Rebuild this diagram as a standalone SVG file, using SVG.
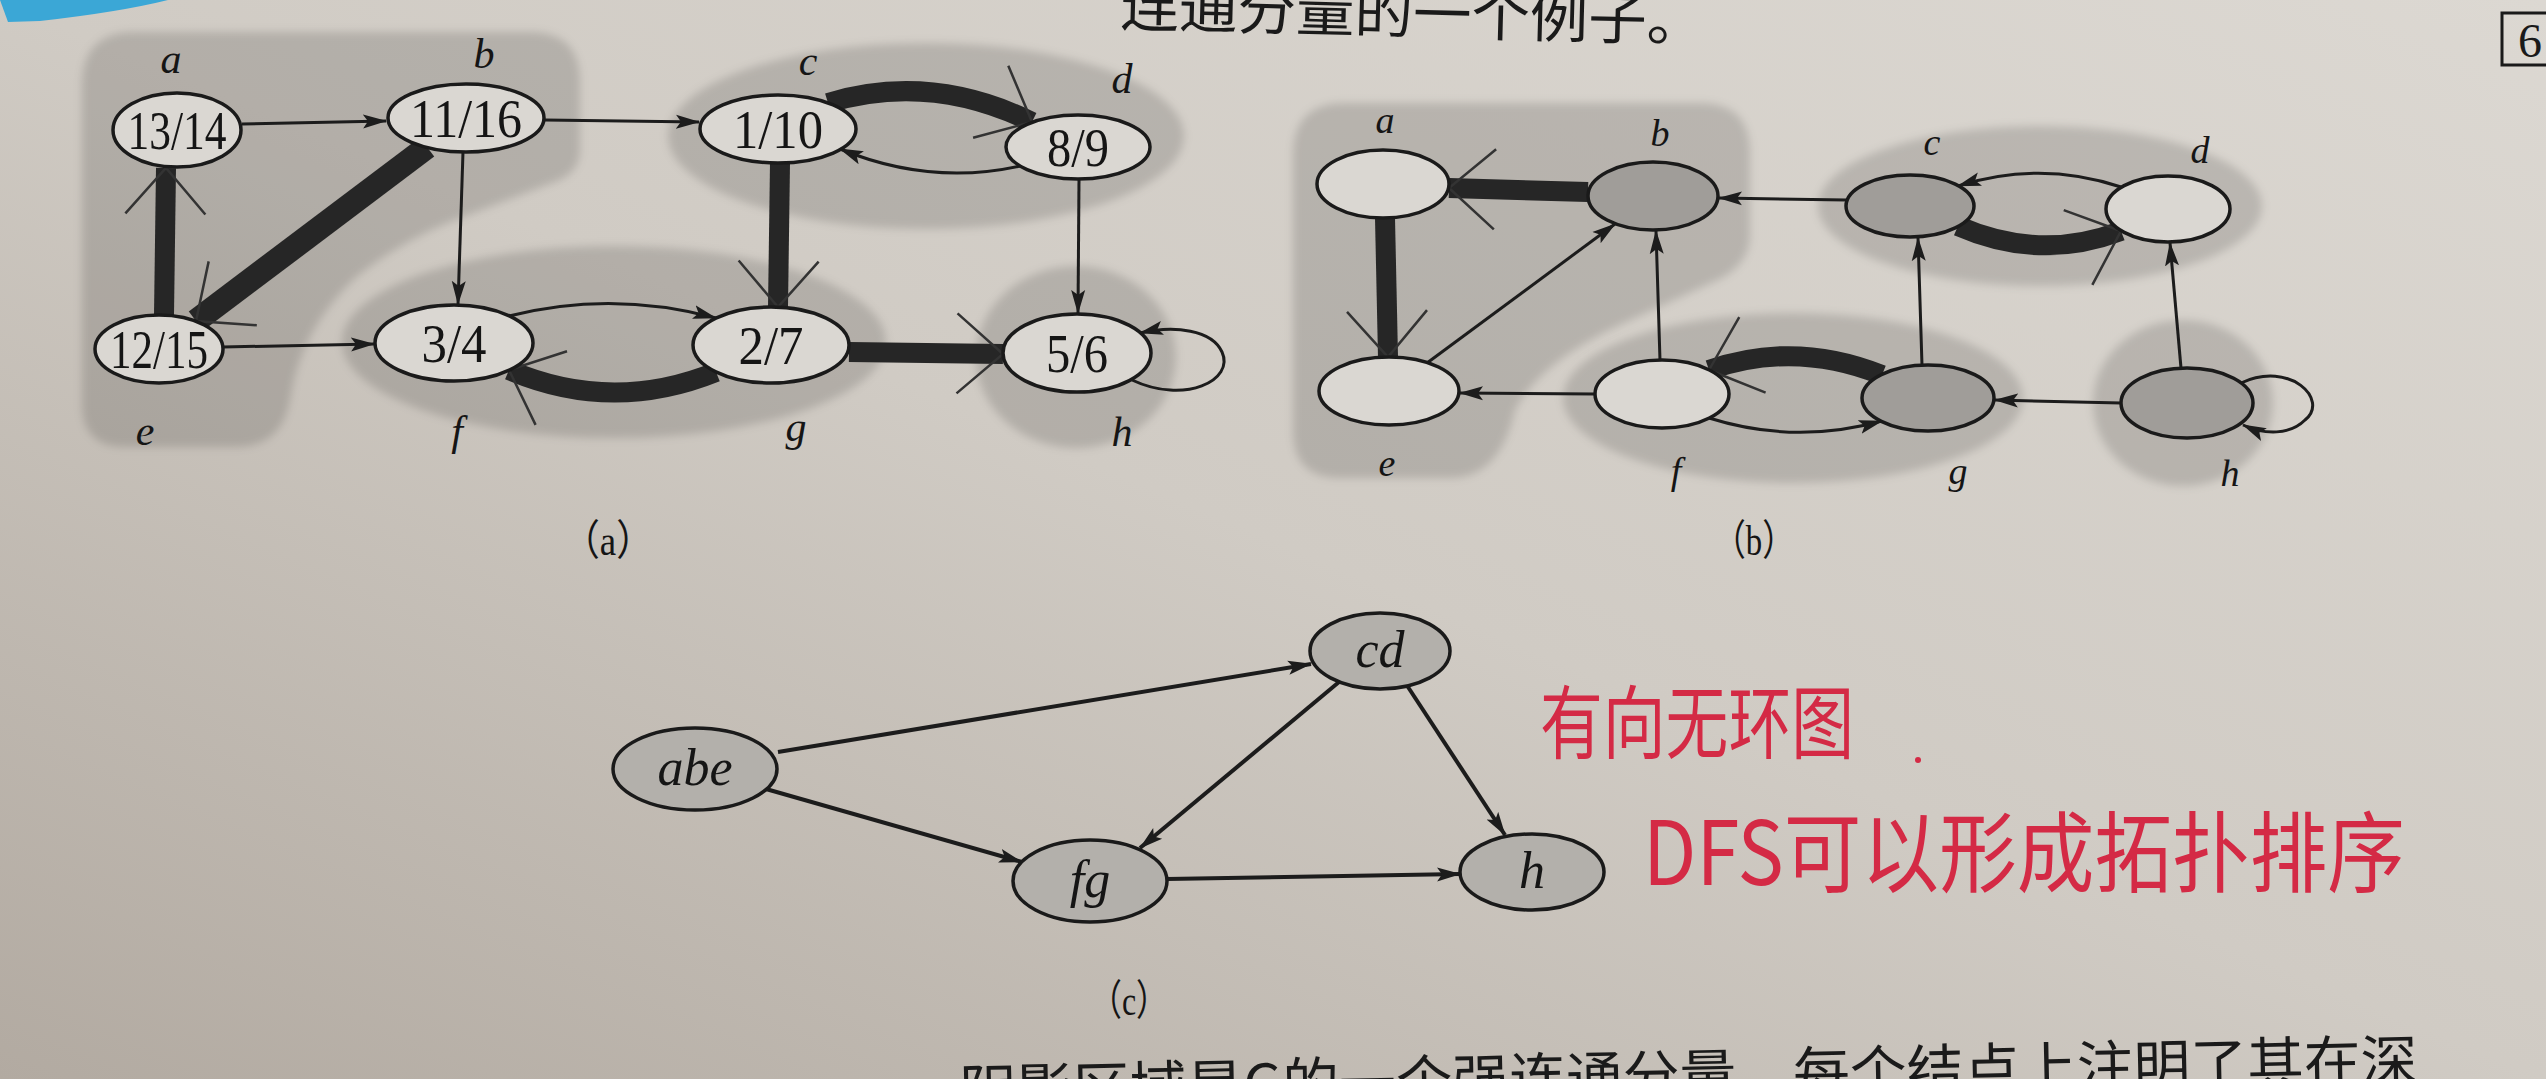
<svg xmlns="http://www.w3.org/2000/svg" width="2546" height="1079" viewBox="0 0 2546 1079">
<defs>
<linearGradient id="paper" x1="1" y1="0" x2="0" y2="1">
<stop offset="0" stop-color="#dcd8d2"/>
<stop offset="0.5" stop-color="#d0cbc4"/>
<stop offset="1" stop-color="#b2aaa1"/>
</linearGradient>
<filter id="soft" x="-10%" y="-10%" width="120%" height="120%"><feGaussianBlur stdDeviation="4"/></filter>
<marker id="ah" viewBox="0 0 24 16" refX="23" refY="8" markerWidth="24" markerHeight="16" markerUnits="userSpaceOnUse" orient="auto"><path d="M0,1 L24,8 L0,15 L5,8 Z" fill="#1c1c1c"/></marker>
<marker id="tk" viewBox="-60 -50 64 100" refX="0" refY="0" markerWidth="64" markerHeight="100" markerUnits="userSpaceOnUse" orient="auto" overflow="visible"><path d="M-46,-40 L0,0 L-46,40" fill="none" stroke="#333" stroke-width="2.5"/></marker>
</defs>
<style>
.reg{fill:#000;fill-opacity:0.14;filter:url(#soft)}
.n{stroke:#1a1a1a;stroke-width:3.5}
.nl{fill:#dad7d2}
.nd{fill:#a09d99}
.nc{fill:#b3b0ab}
.num{font-family:"Liberation Serif",serif;font-size:54px;fill:#151515;text-anchor:middle}
.lab{font-family:"Liberation Serif",serif;font-style:italic;font-size:42px;fill:#151515;text-anchor:middle}
.labb{font-family:"Liberation Serif",serif;font-style:italic;font-size:38px;fill:#151515;text-anchor:middle}
.labc{font-family:"Liberation Serif",serif;font-style:italic;font-size:52px;fill:#151515;text-anchor:middle}
.cap{font-family:"Liberation Serif","Noto Sans CJK SC",serif;font-size:42px;fill:#151515}
.thin{fill:none;stroke:#1c1c1c;stroke-width:3;marker-end:url(#ah)}
.thick{fill:none;stroke:#262626;stroke-width:20;marker-end:url(#tk)}
.cl{fill:none;stroke:#1c1c1c;stroke-width:4;marker-end:url(#ah)}
.page{font-family:"Noto Sans CJK SC",sans-serif;font-size:56px;fill:#1a1a1a}
.red{font-family:"Noto Sans CJK SC",sans-serif;fill:#d42a45}
</style>

<rect x="0" y="0" width="2546" height="1079" fill="url(#paper)"/>
<path d="M0,0 L168,0 Q120,12 40,21 L8,22 Z" fill="#3ba7d6"/>

<text class="page" x="1120" y="26" textLength="585" lengthAdjust="spacingAndGlyphs" transform="rotate(1.5 1120 26)">连通分量的一个例子。</text>
<rect x="2502" y="13" width="60" height="52" fill="none" stroke="#1a1a1a" stroke-width="3"/>
<text x="2530" y="57" font-family="Liberation Serif, serif" font-size="48" text-anchor="middle" fill="#1a1a1a">6</text>
<text class="page" x="960" y="1111" textLength="1458" lengthAdjust="spacingAndGlyphs" transform="rotate(-1.2 960 1111)">阴影区域是G的一个强连通分量。每个结点上注明了其在深</text>

<!-- shaded components -->
<g id="regions">
<path class="reg" d="M135,32 L530,32 Q580,32 580,82 L580,150 Q580,170 560,180 L450,222 Q400,242 355,278 Q300,330 290,400 Q282,447 235,447 L125,447 Q82,447 82,404 L82,85 Q82,32 135,32 Z"/>
<ellipse class="reg" cx="926" cy="136" rx="258" ry="93"/>
<ellipse class="reg" cx="614" cy="342" rx="272" ry="96"/>
<ellipse class="reg" cx="1076" cy="357" rx="100" ry="91"/>
<path class="reg" d="M1345,103 L1700,103 Q1750,103 1750,153 L1750,235 Q1750,262 1722,278 L1620,325 Q1540,362 1515,410 Q1500,478 1450,478 L1340,478 Q1293,478 1293,431 L1293,155 Q1293,103 1345,103 Z"/>
<ellipse class="reg" cx="2040" cy="206" rx="222" ry="80"/>
<ellipse class="reg" cx="1793" cy="398" rx="230" ry="85"/>
<ellipse class="reg" cx="2183" cy="403" rx="90" ry="83"/>
</g>

<g id="connectors">
<!-- (a) -->
<path class="thin" d="M242,124 L386,121"/>
<path class="thin" d="M545,120 L699,122"/>
<path class="thick" d="M828,103 Q930,72 1032,122"/>
<path class="thin" d="M1020,166 Q930,186 840,149"/>
<path class="thick" d="M780,163 L778,307"/>
<path class="thin" d="M1079,179 L1078,313"/>
<path class="thick" d="M164,315 L166,168"/>
<path class="thick" style="stroke-width:24" d="M427,147 L196,321"/>
<path class="thin" d="M223,347 L374,344"/>
<path class="thin" d="M463,152 L458,304"/>
<path class="thin" d="M509,316 Q612,290 716,318"/>
<path class="thick" d="M716,372 Q612,414 509,370"/>
<path class="thick" d="M849,352 L1003,354"/>
<path class="thin" d="M1132,380 C1185,405 1235,380 1222,352 C1212,330 1175,325 1140,333"/>
<!-- (b) -->
<path class="thick" d="M1588,192 L1449,188"/>
<path class="thick" d="M1385,218 L1388,357"/>
<path class="thin" d="M1427,363 L1615,224"/>
<path class="thin" d="M1846,200 L1719,198"/>
<path class="thin" d="M2121,187 Q2040,160 1958,186"/>
<path class="thick" d="M1958,226 Q2040,262 2121,231"/>
<path class="thin" d="M1660,360 L1656,231"/>
<path class="thin" d="M1922,365 L1918,238"/>
<path class="thin" d="M2181,368 L2170,243"/>
<path class="thin" d="M1595,394 L1460,393"/>
<path class="thick" d="M1882,375 Q1795,340 1709,370"/>
<path class="thin" d="M1709,418 Q1795,445 1882,421"/>
<path class="thin" d="M2121,403 L1995,400"/>
<path class="thin" d="M2241,383 C2290,360 2330,400 2305,420 C2290,435 2265,435 2243,425"/>
<!-- (c) -->
<path class="cl" d="M778,752 L1311,664"/>
<path class="cl" d="M766,789 L1022,862"/>
<path class="cl" d="M1339,682 L1140,848"/>
<path class="cl" d="M1408,687 L1505,835"/>
<path class="cl" d="M1167,879 L1460,874"/>
</g>

<!-- (a) nodes -->
<g id="a-a"><ellipse class="n nl" cx="177" cy="130" rx="64" ry="37"/><text class="num" x="177" y="149" textLength="99" lengthAdjust="spacingAndGlyphs">13/14</text><text class="lab" x="171" y="73">a</text></g>
<g id="a-b"><ellipse class="n nl" cx="466" cy="118" rx="78" ry="34"/><text class="num" x="466" y="137" textLength="112" lengthAdjust="spacingAndGlyphs">11/16</text><text class="lab" x="484" y="68">b</text></g>
<g id="a-c"><ellipse class="n nl" cx="778" cy="129" rx="78" ry="34"/><text class="num" x="778" y="148" textLength="90" lengthAdjust="spacingAndGlyphs">1/10</text><text class="lab" x="808" y="75">c</text></g>
<g id="a-d"><ellipse class="n nl" cx="1078" cy="147" rx="72" ry="32"/><text class="num" x="1078" y="166" textLength="62" lengthAdjust="spacingAndGlyphs">8/9</text><text class="lab" x="1122" y="93">d</text></g>
<g id="a-e"><ellipse class="n nl" cx="159" cy="349" rx="64" ry="34"/><text class="num" x="159" y="368" textLength="98" lengthAdjust="spacingAndGlyphs">12/15</text><text class="lab" x="145" y="445">e</text></g>
<g id="a-f"><ellipse class="n nl" cx="454" cy="343" rx="79" ry="38"/><text class="num" x="454" y="362" textLength="65" lengthAdjust="spacingAndGlyphs">3/4</text><text class="lab" x="457" y="445">f</text></g>
<g id="a-g"><ellipse class="n nl" cx="771" cy="345" rx="78" ry="38"/><text class="num" x="771" y="364" textLength="65" lengthAdjust="spacingAndGlyphs">2/7</text><text class="lab" x="796" y="441">g</text></g>
<g id="a-h"><ellipse class="n nl" cx="1077" cy="353" rx="74" ry="39"/><text class="num" x="1077" y="372" textLength="62" lengthAdjust="spacingAndGlyphs">5/6</text><text class="lab" x="1122" y="446">h</text></g>
<text class="cap" x="563" y="555" textLength="90" lengthAdjust="spacingAndGlyphs">（a）</text>

<!-- (b) nodes -->
<g id="b-a"><ellipse class="n nl" cx="1383" cy="184" rx="66" ry="34"/><text class="labb" x="1385" y="133">a</text></g>
<g id="b-b"><ellipse class="n nd" cx="1653" cy="196" rx="65" ry="34"/><text class="labb" x="1660" y="146">b</text></g>
<g id="b-c"><ellipse class="n nd" cx="1910" cy="206" rx="64" ry="31"/><text class="labb" x="1932" y="155">c</text></g>
<g id="b-d"><ellipse class="n nl" cx="2168" cy="209" rx="62" ry="33"/><text class="labb" x="2200" y="163">d</text></g>
<g id="b-e"><ellipse class="n nl" cx="1389" cy="391" rx="70" ry="34"/><text class="labb" x="1387" y="476">e</text></g>
<g id="b-f"><ellipse class="n nl" cx="1662" cy="394" rx="67" ry="34"/><text class="labb" x="1676" y="484">f</text></g>
<g id="b-g"><ellipse class="n nd" cx="1928" cy="398" rx="66" ry="33"/><text class="labb" x="1958" y="484">g</text></g>
<g id="b-h"><ellipse class="n nd" cx="2187" cy="403" rx="66" ry="35"/><text class="labb" x="2230" y="486">h</text></g>
<text class="cap" x="1713" y="555" textLength="82" lengthAdjust="spacingAndGlyphs">（b）</text>

<!-- (c) nodes -->
<g id="c-abe"><ellipse class="n nc" cx="695" cy="769" rx="82" ry="41"/><text class="labc" x="695" y="785">abe</text></g>
<g id="c-cd"><ellipse class="n nc" cx="1380" cy="651" rx="70" ry="38"/><text class="labc" x="1380" y="667">cd</text></g>
<g id="c-fg"><ellipse class="n nc" cx="1090" cy="881" rx="77" ry="41"/><text class="labc" x="1090" y="897">fg</text></g>
<g id="c-h"><ellipse class="n nc" cx="1532" cy="872" rx="72" ry="38"/><text class="labc" x="1532" y="888">h</text></g>
<text class="cap" x="1090" y="1015" textLength="78" lengthAdjust="spacingAndGlyphs">（c）</text>

<!-- handwritten notes -->
<text class="red" x="1540" y="752" font-size="80" textLength="314" lengthAdjust="spacingAndGlyphs">有向无环图</text>
<circle cx="1918" cy="760" r="3" fill="#d42a45"/>
<text class="red" x="1643" y="885" font-size="88" textLength="762" lengthAdjust="spacingAndGlyphs">DFS可以形成拓扑排序</text>
</svg>
